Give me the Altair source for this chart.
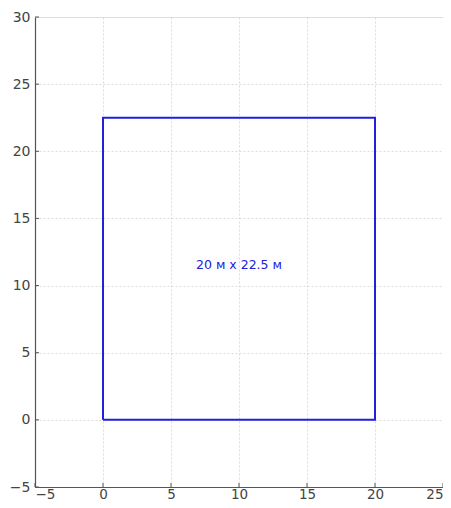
import altair as alt
import pandas as pd

# rectangle corners (metres)
rect_x = [0, 20, 20, 0, 0]
rect_y = [0, 0, 22.5, 22.5, 0]
label_text = ["20 м x 22.5 м"]
label_x = [10]
label_y = [11.25]
x_ticks = [-5, 0, 5, 10, 15, 20, 25]
y_ticks = [-5, 0, 5, 10, 15, 20, 25, 30]

rect_df = pd.DataFrame({"x": rect_x, "y": rect_y, "order": list(range(len(rect_x)))})
lab_df = pd.DataFrame({"x": label_x, "y": label_y, "t": label_text})
xt_df = pd.DataFrame({"v": x_ticks})
yt_df = pd.DataFrame({"v": y_ticks})

xscale = alt.Scale(domain=[-5, 25], nice=False, zero=False)
yscale = alt.Scale(domain=[-5, 30], nice=False, zero=False)

H = 470

axis_common = dict(
    grid=True, gridColor="#dcdcdc", gridDash=[2, 2], gridWidth=1,
    domainColor="#555555", domainWidth=1.2, ticks=False,
    labelFont="DejaVu Sans", labelFontSize=14, labelColor="#444444",
    labelExpr="replace(datum.label, '-', '\u2212')",
    title=None,
)

xaxis = alt.Axis(values=x_ticks, labelPadding=0, labelBound=False, labelOverlap=False,
                 **{**axis_common, "labelFontSize": 13.5})
yaxis = alt.Axis(values=y_ticks, labelPadding=5, labelOverlap=False, **axis_common)

rect = alt.Chart(rect_df).mark_line(color="#2020dd", strokeWidth=2).encode(
    x=alt.X("x:Q", scale=xscale, axis=xaxis),
    y=alt.Y("y:Q", scale=yscale, axis=yaxis),
    order="order:Q",
)

text = alt.Chart(lab_df).mark_text(
    color="#2020dd", fontSize=12.5, font="DejaVu Sans", baseline="alphabetic"
).encode(
    x=alt.X("x:Q", scale=xscale),
    y=alt.Y("y:Q", scale=yscale),
    text="t:N",
)

# inward tick marks
xticks = alt.Chart(xt_df).mark_rule(color="#555555", strokeWidth=1).encode(
    x=alt.X("v:Q", scale=xscale),
    y=alt.value(H), y2=alt.value(H - 4),
)
yticks = alt.Chart(yt_df).mark_rule(color="#555555", strokeWidth=1).encode(
    y=alt.Y("v:Q", scale=yscale),
    x=alt.value(0), x2=alt.value(4),
)

chart = alt.layer(rect, text, xticks, yticks).properties(
    width=408, height=H,
    autosize=alt.AutoSizeParams(type="none"),
    padding={"left": 27, "top": 9, "right": 0, "bottom": 13},
).configure_view(stroke=None).configure(background="white")

chart.save("out.html", embed_options={"renderer": "svg", "actions": False})
